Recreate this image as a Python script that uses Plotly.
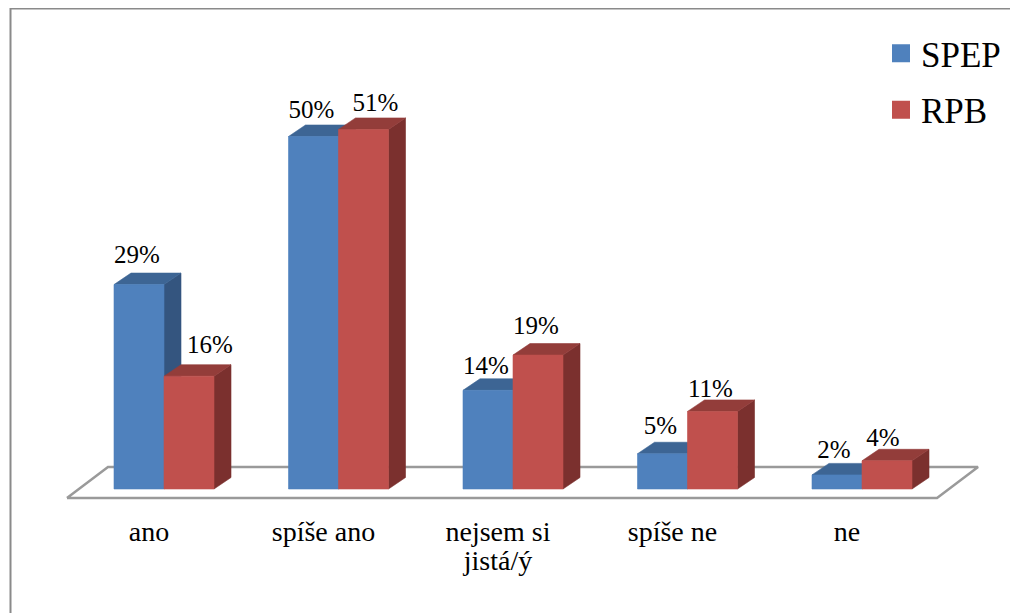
import plotly.graph_objects as go

# ---------------- data ----------------
categories = ["ano", "spíše ano", "nejsem si\njistá/ý", "spíše ne", "ne"]
series_names = ["SPEP", "RPB"]
spep_values = [29, 50, 14, 5, 2]
rpb_values = [16, 51, 19, 11, 4]

# ---------------- style ----------------
PAGE_OFF = 8                # browser body margin
W, H = 1018 - PAGE_OFF, 613 - PAGE_OFF
PX_PER_CAT = 174.5          # horizontal pixels per category
PX_PER_PCT = 7.05           # vertical pixels per percent
X0_PX, Y0_PX = 164 - PAGE_OFF, 489 - PAGE_OFF   # category 0 centre / value 0
BAR_W = 50 / PX_PER_CAT     # bar width in category units
DEPTH_X = 17 / PX_PER_CAT   # 3-D depth offset (x units)
DEPTH_Y = 11.5 / PX_PER_PCT # 3-D depth offset (y units)

FONT = "Liberation Serif, Times New Roman, DejaVu Serif, serif"
colors = {
    "SPEP": dict(front="#4F81BD", top="#3D6594", side="#34557F"),
    "RPB": dict(front="#C0504D", top="#933D3A", side="#7B302E"),
}
label_xshift = {"SPEP": [-2, -2, -2, -2, -3], "RPB": [21, 12, -2, -2, -4]}
label_yshift = {"SPEP": [28, 25, 23, 26, 23], "RPB": [29, 25, 27, 21, 21]}

x_range = [-X0_PX / PX_PER_CAT, (W - X0_PX) / PX_PER_CAT]
y_range = [(Y0_PX - H) / PX_PER_PCT, Y0_PX / PX_PER_PCT]

fig = go.Figure()

# floor (parallelogram)
n = len(categories)
floor_front_y = -9 / PX_PER_PCT
floor_back_y = 22 / PX_PER_PCT
fl_left, fl_right, fl_shift = -0.556, (n - 1) + 0.43, 0.235
fig.add_trace(go.Scatter(
    x=[fl_left, fl_right, fl_right + fl_shift, fl_left + fl_shift, fl_left],
    y=[floor_front_y, floor_front_y, floor_back_y, floor_back_y, floor_front_y],
    mode="lines", line=dict(color="#9A9A9A", width=2.5),
    fill="toself", fillcolor="white", hoverinfo="skip", showlegend=False,
))


def faces(values, offset):
    fx, fy, tx, ty, sx, sy = [], [], [], [], [], []
    for i, v in enumerate(values):
        x0 = i + offset
        x1 = x0 + BAR_W
        fx += [x0, x1, x1, x0, x0, None]
        fy += [0, 0, v, v, 0, None]
        tx += [x0, x1, x1 + DEPTH_X, x0 + DEPTH_X, x0, None]
        ty += [v, v, v + DEPTH_Y, v + DEPTH_Y, v, None]
        sx += [x1, x1 + DEPTH_X, x1 + DEPTH_X, x1, x1, None]
        sy += [0, DEPTH_Y, v + DEPTH_Y, v, 0, None]
    return (fx, fy), (tx, ty), (sx, sy)


series = [("SPEP", spep_values, -BAR_W), ("RPB", rpb_values, 0.0)]
label_traces = []
for name, vals, off in series:
    front, top, side = faces(vals, off)
    c = colors[name]
    for (xs, ys), col in ((side, c["side"]), (top, c["top"]), (front, c["front"])):
        fig.add_trace(go.Scatter(
            x=xs, y=ys, mode="lines", fill="toself", fillcolor=col,
            line=dict(color=col, width=0.6), hoverinfo="skip", showlegend=False,
        ))
    label_traces.append(go.Scatter(
        x=[i + off + BAR_W / 2 + label_xshift[name][i] / PX_PER_CAT for i in range(len(vals))],
        y=[v + label_yshift[name][i] / PX_PER_PCT for i, v in enumerate(vals)],
        mode="text", text=[f"{v}%" for v in vals], textposition="middle center",
        textfont=dict(family=FONT, size=25, color="black"),
        hoverinfo="skip", showlegend=False, cliponaxis=False,
    ))
for t in label_traces:
    fig.add_trace(t)

# category labels (one text line per row)
LINE_PX = [534 - PAGE_OFF, 563 - PAGE_OFF]
cx, cy, ct = [], [], []
for i, cat in enumerate(categories):
    for j, line in enumerate(cat.split("\n")):
        cx.append(i - 15 / PX_PER_CAT)
        cy.append((Y0_PX - LINE_PX[j]) / PX_PER_PCT)
        ct.append(line)
fig.add_trace(go.Scatter(
    x=cx, y=cy, text=ct, mode="text", textposition="middle center",
    textfont=dict(family=FONT, size=28, color="black"),
    hoverinfo="skip", showlegend=False, cliponaxis=False,
))

# legend entries
for name in series_names:
    fig.add_trace(go.Scatter(
        x=[None], y=[None], mode="markers", name=name, legendgroup=name,
        marker=dict(symbol="square", size=16, color=colors[name]["front"],
                    line=dict(color=colors[name]["front"], width=2)),
    ))

# outer frame
fig.add_shape(type="rect", xref="paper", yref="paper",
              x0=(10.5 - PAGE_OFF) / W, x1=1.05, y0=-0.05, y1=1 - (8.5 - PAGE_OFF) / H,
              line=dict(color="#8A8A8A", width=2), layer="below")

fig.update_layout(
    width=W, height=H, margin=dict(l=0, r=0, t=0, b=0),
    paper_bgcolor="white", plot_bgcolor="white",
    font=dict(family=FONT, color="black"),
    xaxis=dict(range=x_range, visible=False, fixedrange=True),
    yaxis=dict(range=y_range, visible=False, fixedrange=True),
    showlegend=True,
    legend=dict(x=(881 - PAGE_OFF) / W, y=1 - (24 - PAGE_OFF) / H,
                xanchor="left", yanchor="top",
                bgcolor="rgba(0,0,0,0)", traceorder="grouped", tracegroupgap=8,
                font=dict(family=FONT, size=35, color="black")),
)

fig.write_html("out.html")
